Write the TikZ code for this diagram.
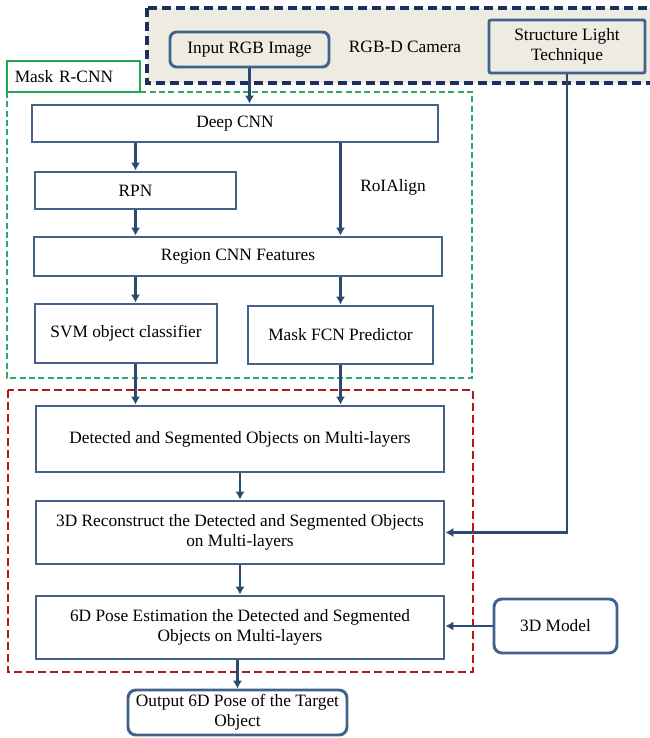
\documentclass[tikz,border=0pt]{standalone}
\usepackage{fontspec}
\setmainfont{Liberation Serif}
\newfontfamily\figfont{Liberation Serif}
\usetikzlibrary{arrows.meta}
\definecolor{boxline}{HTML}{41628B}
\definecolor{arrowline}{HTML}{2C4A6E}
\definecolor{camline}{HTML}{1B2F5C}
\definecolor{camfill}{HTML}{EEEBE3}
\definecolor{maskline}{HTML}{1FA84F}
\definecolor{maskdash}{HTML}{2DAA66}
\definecolor{poseline}{HTML}{B2171C}

\begin{document}
\begin{tikzpicture}[x=0.75pt, y=-0.75pt,
    every node/.style={font=\figfont\fontsize{13}{15}\selectfont},
    blk/.style={draw=boxline, line width=2.2pt, fill=white, align=center, inner sep=2pt},
    rblk/.style={blk, rounded corners=5pt},
    arr/.style={draw=arrowline, line width=2pt, -{Latex[length=6pt,width=7pt]}}]
  \useasboundingbox (0,0) rectangle (649,738);

  % RGB-D camera region
  \draw[camline, fill=camfill, line width=2.4pt, dash pattern=on 7pt off 3.5pt]
    (147,8) rectangle (665,83);
  \node[rblk, fill=camfill, minimum width=119.25pt, minimum height=26.25pt]
    (input) at (249.5,49.5) {Input RGB Image};
  \node (cam) at (405,47) {RGB-D Camera};
  \node[blk, fill=camfill, rounded corners=1.5pt, minimum width=117pt, minimum height=39.75pt]
    (slt) at (567,46.5) {Structure Light\\Technique};

  % Mask R-CNN region
  \draw[maskdash, line width=1.5pt, dash pattern=on 4.5pt off 2.5pt]
    (7,92) rectangle (472,378);
  \node[draw=maskline, line width=2pt, fill=white, minimum width=99.75pt,
    minimum height=23.25pt, text width=88pt, align=left]
    (mrcnn) at (73.5,76.5) {Mask R-CNN};

  \node[blk, minimum width=304.5pt, minimum height=27.75pt] (deep) at (235,123.5) {Deep CNN};
  \node[blk, minimum width=150.75pt, minimum height=27.75pt] (rpn) at (135.5,190.5) {RPN};
  \node (roi) at (393,187) {RoIAlign};
  \node[blk, minimum width=306pt, minimum height=29.25pt] (region) at (238,256.5) {Region CNN Features};
  \node[blk, minimum width=136.5pt, minimum height=44.25pt] (svm) at (126,333.5) {SVM object classifier};
  \node[blk, minimum width=138.75pt, minimum height=43.5pt] (mfcn) at (340.5,335) {Mask FCN Predictor};

  % 6D pose region
  \draw[poseline, line width=2.2pt, dash pattern=on 6pt off 3pt]
    (8,390) rectangle (473,672);
  \node[blk, minimum width=306pt, minimum height=49.5pt] (det) at (240,439)
    {Detected and Segmented Objects on Multi-layers};
  \node[blk, minimum width=306pt, minimum height=47.25pt] (recon) at (240,532.5)
    {3D Reconstruct the Detected and Segmented Objects\\on Multi-layers};
  \node[blk, minimum width=306pt, minimum height=47.25pt] (pose) at (240,627.5)
    {6D Pose Estimation the Detected and Segmented\\Objects on Multi-layers};
  \node[rblk, rounded corners=6pt, minimum width=92.25pt, minimum height=40.5pt]
    (model) at (555.5,626) {3D Model};
  \node[rblk, rounded corners=6pt, minimum width=164.25pt, minimum height=33.75pt]
    (output) at (237.5,712.5) {Output 6D Pose of the Target\\Object};

  % connectors
  \draw[arr] (input.south) -- (input.south |- deep.north);
  \draw[arr] (rpn.north |- deep.south) -- (rpn.north);
  \draw[arr] (mfcn.north |- deep.south) -- (mfcn.north |- region.north);
  \draw[arr] (rpn.south) -- (rpn.south |- region.north);
  \draw[arr] (rpn.south |- region.south) -- (rpn.south |- svm.north);
  \draw[arr] (mfcn.north |- region.south) -- (mfcn.north);
  \draw[arr] (rpn.south |- svm.south) -- (rpn.south |- det.north);
  \draw[arr] (mfcn.south) -- (mfcn.south |- det.north);
  \draw[arr] (det.south) -- (recon.north);
  \draw[arr] (recon.south) -- (pose.north);
  \draw[arr] (pose.south -| output.north) -- (output.north);
  \draw[arr] (slt.south) |- (recon.east);
  \draw[arr] (model.west) -- (model.west -| pose.east);
\end{tikzpicture}
\end{document}
